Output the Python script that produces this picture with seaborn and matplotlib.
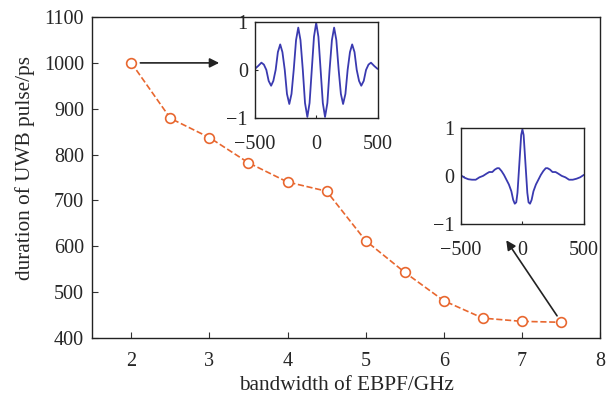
import matplotlib
matplotlib.use("Agg")
import matplotlib.pyplot as plt
import seaborn as sns
import pandas as pd

# main data
bandwidth = [2.0, 2.5, 3.0, 3.5, 4.0, 4.5, 5.0, 5.5, 6.0, 6.5, 7.0, 7.5]
duration = [1000, 879, 837, 782, 740, 720, 612, 543, 481, 443, 436, 434]

xticks_main = [2, 3, 4, 5, 6, 7, 8]
yticks_main = [400, 500, 600, 700, 800, 900, 1000, 1100]

# inset 1 waveform
w1_t = [-500, -473, -446, -426, -406, -387, -367, -349, -330, -312, -293, -275, -256,
        -238, -219, -201, -183, -164, -146, -128, -109, -91, -72, -54, -36, -18,
        0, 18, 36, 54, 72, 91, 109, 128, 146, 164, 183, 201, 219, 238, 256, 275,
        293, 312, 330, 349, 367, 387, 406, 426, 446, 473, 500]
w1_v = [0.02, 0.08, 0.15, 0.11, 0.0, -0.23, -0.33, -0.23, 0.0, 0.37, 0.53, 0.37, 0.0,
        -0.50, -0.71, -0.50, 0.0, 0.62, 0.88, 0.62, 0.0, -0.69, -0.98, -0.69, 0.0, 0.69,
        0.98, 0.69, 0.0, -0.69, -0.98, -0.69, 0.0, 0.62, 0.88, 0.62, 0.0, -0.50,
        -0.71, -0.50, 0.0, 0.37, 0.53, 0.37, 0.0, -0.23, -0.33, -0.23, 0.0, 0.11,
        0.15, 0.08, 0.02]

# inset 2 waveform
w2_t = [-500, -470, -440, -410, -380, -350, -320, -290, -270, -245, -225, -205, -190,
        -170, -150, -130, -110, -90, -75, -62, -50, -40, -30, -20, -10,
        0, 10, 20, 30, 40, 50, 62, 75, 90, 110, 130, 150, 170, 190, 205, 225,
        245, 270, 290, 320, 350, 380, 410, 440, 470, 500]
w2_v = [0.01, -0.04, -0.07, -0.08, -0.08, -0.03, 0.0, 0.05, 0.08, 0.08, 0.13, 0.16,
        0.16, 0.10, 0.02, -0.08, -0.18, -0.32, -0.50, -0.58, -0.55, -0.35, 0.05,
        0.45, 0.85, 0.97, 0.85, 0.45, 0.05, -0.35, -0.55, -0.58, -0.50, -0.32, -0.18,
        -0.08, 0.02, 0.10, 0.16, 0.16, 0.13, 0.08, 0.08, 0.05, 0.0, -0.03, -0.08,
        -0.08, -0.06, -0.03, 0.02]

inset_xticks = [-500, 0, 500]
inset_yticks = [-1, 0, 1]

sns.set_style("ticks")
plt.rcParams['font.family'] = ['Liberation Serif', 'DejaVu Serif']
plt.rcParams['axes.unicode_minus'] = True

orange = "#E8672F"
blue = "#3A3AB0"
FS = 14.5
LFS = 15.3

fig = plt.figure(figsize=(6.11, 3.97), dpi=100)
ax = fig.add_axes([0.151, 0.149, 0.831, 0.808])

df = pd.DataFrame({"bw": bandwidth, "dur": duration})
sns.lineplot(data=df, x="bw", y="dur", ax=ax, color=orange, linestyle="--",
             linewidth=1.2, marker="o", markersize=7, markerfacecolor="white",
             markeredgecolor=orange, markeredgewidth=1.2)
ax.set_xlim(1.5, 8)
ax.set_ylim(400, 1100)
ax.set_xticks(xticks_main)
ax.set_yticks(yticks_main)
ax.tick_params(direction="in", labelsize=FS, length=4, width=0.8, color="#333333")
ax.tick_params(axis="x", pad=10)
ax.tick_params(axis="y", pad=6)
ax.set_xlabel("bandwidth of EBPF/GHz", fontsize=LFS)
ax.set_ylabel("duration of UWB pulse/ps", fontsize=LFS)
ax.yaxis.set_label_coords(-0.112, 0.53)
ax.xaxis.set_label_coords(0.5, -0.118)
for s in ax.spines.values():
    s.set_linewidth(1.0)
    s.set_color("#222222")

def inset(rect, t, v):
    a = fig.add_axes(rect)
    d = pd.DataFrame({"t": t, "v": v})
    sns.lineplot(data=d, x="t", y="v", ax=a, color=blue, linewidth=1.3)
    a.set_xlim(-500, 500)
    a.set_ylim(-1, 1)
    a.set_xticks(inset_xticks)
    a.set_yticks(inset_yticks)
    a.set_xticklabels(["\u2212500", "0", "500"])
    a.set_yticklabels(["\u22121", "0", "1"])
    a.tick_params(direction="in", labelsize=FS, length=2, width=0.8)
    a.tick_params(axis="x", pad=12)
    a.tick_params(axis="y", pad=5)
    a.set_xlabel("")
    a.set_ylabel("")
    for s in a.spines.values():
        s.set_linewidth(1.0)
        s.set_color("#222222")
    return a

inset([0.417, 0.703, 0.201, 0.242], w1_t, w1_v)
inset([0.7545, 0.436, 0.201, 0.242], w2_t, w2_v)

ax.annotate("", xy=(3.16, 1000), xytext=(2.08, 1000),
            arrowprops=dict(arrowstyle="-|>", color="#222222", lw=1.2,
                            mutation_scale=14))
ax.annotate("", xy=(6.78, 618), xytext=(7.47, 443),
            arrowprops=dict(arrowstyle="-|>", color="#222222", lw=1.2,
                            mutation_scale=14))

fig.savefig("out.png", dpi=100)
